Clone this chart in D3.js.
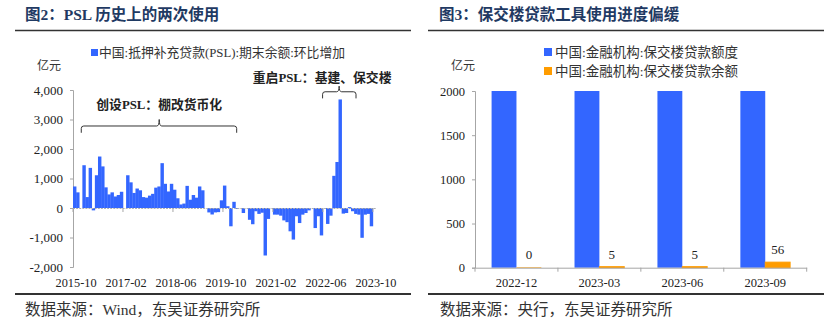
<!DOCTYPE html>
<html><head><meta charset="utf-8">
<script src="https://cdn.jsdelivr.net/npm/d3@7"></script>
<style>
html,body{margin:0;padding:0;background:#fff;}
svg text{font-family:"Liberation Serif","Times New Roman","Noto Sans CJK SC",serif;}
</style></head>
<body><svg id="c" width="831" height="329"></svg>
<script>
// ---------- data: left chart (monthly PSL net change, 亿元) ----------
const pslStart = "2015-10", pslEnd = "2023-10";
const pslValues = [
 730,530,0,1450,370,1360,-80,1110,1745,1410,700,460,530,390,440,550,
 0,1110,870,510,660,600,370,350,420,480,690,730,1520,820,560,820,
 620,330,120,150,750,280,440,350,730,600,0,-150,-220,-150,-140,260,
 760,60,-620,210,-30,0,-170,0,-400,-550,-110,-200,-160,-1610,-370,0,
 -225,-225,-260,-420,-480,-790,-1070,-280,-510,-225,-170,-80,0,-680,-280,-930,
 0,-540,-260,1090,1560,3680,-190,-170,30,-110,-200,-225,-1010,-225,-200,-620,
 0
];
const pslTickLabels = ["2015-10","2017-02","2018-06","2019-10","2021-02","2022-06","2023-10"];
const pslYTicks = [-2000,-1000,0,1000,2000,3000,4000];
const pslLegend = "中国:抵押补充贷款(PSL):期末余额:环比增加";

// ---------- data: right chart ----------
const bjlCats = ["2022-12","2023-03","2023-06","2023-09"];
const bjlQuota = [2000,2000,2000,2000];
const bjlBalance = [0,5,5,56];
const bjlYTicks = [0,500,1000,1500,2000];
const bjlLegend = ["中国:金融机构:保交楼贷款额度","中国:金融机构:保交楼贷款余额"];

const fmt = d3.timeFormat("%Y-%m"), parse = d3.timeParse("%Y-%m");
const months = d3.timeMonth.range(parse(pslStart), d3.timeMonth.offset(parse(pslEnd),1)).map(fmt);

const BLUE = "#3366FF", ORANGE = "#FF9C00", TITLE = "#1F3A63", AX = "#a6a6a6";
const svg = d3.select("#c");

// ===== LEFT PANEL =====
const L = svg.append("g");
L.append("text").attr("x",25).attr("y",20).attr("font-size",15.5).attr("font-weight","bold")
 .attr("fill",TITLE).text("图2：PSL 历史上的两次使用");
L.append("line").attr("x1",15).attr("x2",411).attr("y1",30.5).attr("y2",30.5).attr("stroke","#333").attr("stroke-width",1.6);

const xL = d3.scaleBand().domain(months).range([73,376]).padding(0);
const yL = d3.scaleLinear().domain([-2000,4000]).range([267,90]);

// legend
L.append("rect").attr("x",91).attr("y",49).attr("width",7).attr("height",7).attr("fill",BLUE);
L.append("text").attr("x",99).attr("y",57).attr("font-size",12.8).attr("fill","#333").text(pslLegend);
L.append("text").attr("x",37).attr("y",70).attr("font-size",12).attr("fill","#333").text("亿元");

// y axis
const yAxL = L.append("g").attr("transform","translate(73,0)")
 .call(d3.axisLeft(yL).tickValues(pslYTicks).tickSize(3).tickPadding(7)
   .tickFormat(d=>d3.format(",")(d).replace("−","-")));
yAxL.selectAll("path,line").attr("stroke",AX);
yAxL.selectAll("text").attr("font-size",13).attr("fill","#222");

// bars
L.append("g").selectAll("rect").data(pslValues).join("rect")
 .attr("x",(d,i)=>xL(months[i])).attr("width",xL.bandwidth()+0.3)
 .attr("y",d=>yL(Math.max(0,d))).attr("height",d=>Math.abs(yL(d)-yL(0)))
 .attr("fill",BLUE);

// zero axis
L.append("line").attr("x1",73).attr("x2",376).attr("y1",yL(0)+0.5).attr("y2",yL(0)+0.5)
 .attr("stroke","#b0b0b0").attr("stroke-width",1).attr("stroke-dasharray","2,1.1");
L.append("g").selectAll("line").data(pslTickLabels).join("line")
 .attr("x1",d=>xL(d)).attr("x2",d=>xL(d)).attr("y1",yL(0)).attr("y2",yL(0)+4).attr("stroke",AX);
L.append("g").selectAll("text").data(pslTickLabels).join("text")
 .attr("x",d=>xL(d)+xL.bandwidth()/2+1.5).attr("y",287).attr("text-anchor","middle")
 .attr("font-size",12).attr("fill","#222").attr("textLength",41).attr("lengthAdjust","spacingAndGlyphs").text(d=>d);

// annotations (brackets in data coordinates)
const idx = d3.scaleLinear().domain([0,months.length]).range(xL.range());
function bracket(i0,i1,ic,yv,yEnd,yTip){
  const x0=idx(i0), x1=idx(i1), xc=idx(ic), y=yL(yv), ye=yL(yEnd), yt=yL(yTip), r=2.5;
  const p = `M${x0},${ye} L${x0},${y+r} Q${x0},${y} ${x0+r},${y} L${xc-r},${y} Q${xc},${y} ${xc},${yt}`+
            ` Q${xc},${y} ${xc+r},${y} L${x1-r},${y} Q${x1},${y} ${x1},${y+r} L${x1},${ye}`;
  L.append("path").attr("d",p).attr("fill","none").attr("stroke","#333").attr("stroke-width",1);
}
bracket(2.65,52.4,27.6,2780,2550,3000);
L.append("text").attr("x",idx(27.6)).attr("y",yL(3520)+5).attr("text-anchor","middle")
 .attr("font-size",12.8).attr("font-weight","bold").attr("fill","#222").text("创设PSL：棚改货币化");
bracket(79.9,90.6,85.2,3940,3716,4130);
L.append("text").attr("x",idx(85.2)-17).attr("y",yL(4450)+5).attr("text-anchor","middle")
 .attr("font-size",12.8).attr("font-weight","bold").attr("fill","#222").text("重启PSL：基建、保交楼");

L.append("line").attr("x1",15).attr("x2",411).attr("y1",294).attr("y2",294).attr("stroke","#333").attr("stroke-width",2);
L.append("text").attr("x",25).attr("y",315).attr("font-size",15.5).attr("fill","#333").text("数据来源：Wind，东吴证券研究所");

// ===== RIGHT PANEL =====
const R = svg.append("g");
R.append("text").attr("x",439).attr("y",20).attr("font-size",15.5).attr("font-weight","bold")
 .attr("fill",TITLE).text("图3：保交楼贷款工具使用进度偏缓");
R.append("line").attr("x1",428).attr("x2",824).attr("y1",30.5).attr("y2",30.5).attr("stroke","#333").attr("stroke-width",1.6);

const yR = d3.scaleLinear().domain([0,2000]).range([267.7,91]);
const xR = d3.scaleBand().domain(bjlCats).range([475,806.7]).paddingInner(0.4).paddingOuter(0.2);
const xRb = d3.scaleBand().domain(bjlCats).range([475,806.7]).padding(0);
const x1 = d3.scaleBand().domain(["quota","balance"]).range([0,xR.bandwidth()]);

// legend
const legColors = [BLUE, ORANGE];
bjlLegend.forEach((t,i)=>{
  R.append("rect").attr("x",544).attr("y",48+i*19).attr("width",8).attr("height",8).attr("fill",legColors[i]);
  R.append("text").attr("x",555).attr("y",57+i*19).attr("font-size",13.5).attr("fill","#333").text(t);
});
R.append("text").attr("x",451).attr("y",70).attr("font-size",12).attr("fill","#333").text("亿元");

const yAxR = R.append("g").attr("transform","translate(475,0)")
 .call(d3.axisLeft(yR).tickValues(bjlYTicks).tickSize(3).tickPadding(7).tickFormat(d3.format("d")));
yAxR.selectAll("path,line").attr("stroke",AX);
yAxR.selectAll("text").attr("font-size",12.5).attr("fill","#222");

const grp = R.append("g").selectAll("g").data(bjlCats).join("g").attr("transform",d=>`translate(${xR(d)},0)`);
grp.append("rect").attr("x",x1("quota")).attr("width",x1.bandwidth())
 .attr("y",(d,i)=>yR(bjlQuota[i])).attr("height",(d,i)=>yR(0)-yR(bjlQuota[i])).attr("fill",BLUE);
grp.append("rect").attr("x",x1("balance")).attr("width",x1.bandwidth())
 .attr("y",(d,i)=>yR(bjlBalance[i])-0.6).attr("height",(d,i)=>yR(0)-yR(bjlBalance[i])+0.6)
 .attr("fill",ORANGE).attr("stroke",ORANGE).attr("stroke-width",(d,i)=>bjlBalance[i]>0?1:0);
grp.append("text").attr("x",x1("balance")+x1.bandwidth()/2).attr("y",(d,i)=>yR(bjlBalance[i])-8.5)
 .attr("text-anchor","middle").attr("font-size",13).attr("fill","#222").text((d,i)=>bjlBalance[i]);

// x axis
const xAxR = R.append("g").attr("transform",`translate(0,${yR(0)})`)
 .call(d3.axisBottom(xRb).tickSize(0).tickPadding(10));
xAxR.select("path").attr("stroke",AX);
xAxR.selectAll("text").attr("font-size",12.5).attr("fill","#222");
R.append("g").selectAll("line").data(bjlCats.concat(["end"])).join("line")
 .attr("x1",(d,i)=>xRb.range()[0]+i*xRb.step()).attr("x2",(d,i)=>xRb.range()[0]+i*xRb.step())
 .attr("y1",yR(0)).attr("y2",yR(0)+4).attr("stroke",AX);

R.append("line").attr("x1",428).attr("x2",824).attr("y1",294).attr("y2",294).attr("stroke","#333").attr("stroke-width",2);
R.append("text").attr("x",440).attr("y",315).attr("font-size",15.5).attr("fill","#333").text("数据来源：央行，东吴证券研究所");
</script></body></html>
